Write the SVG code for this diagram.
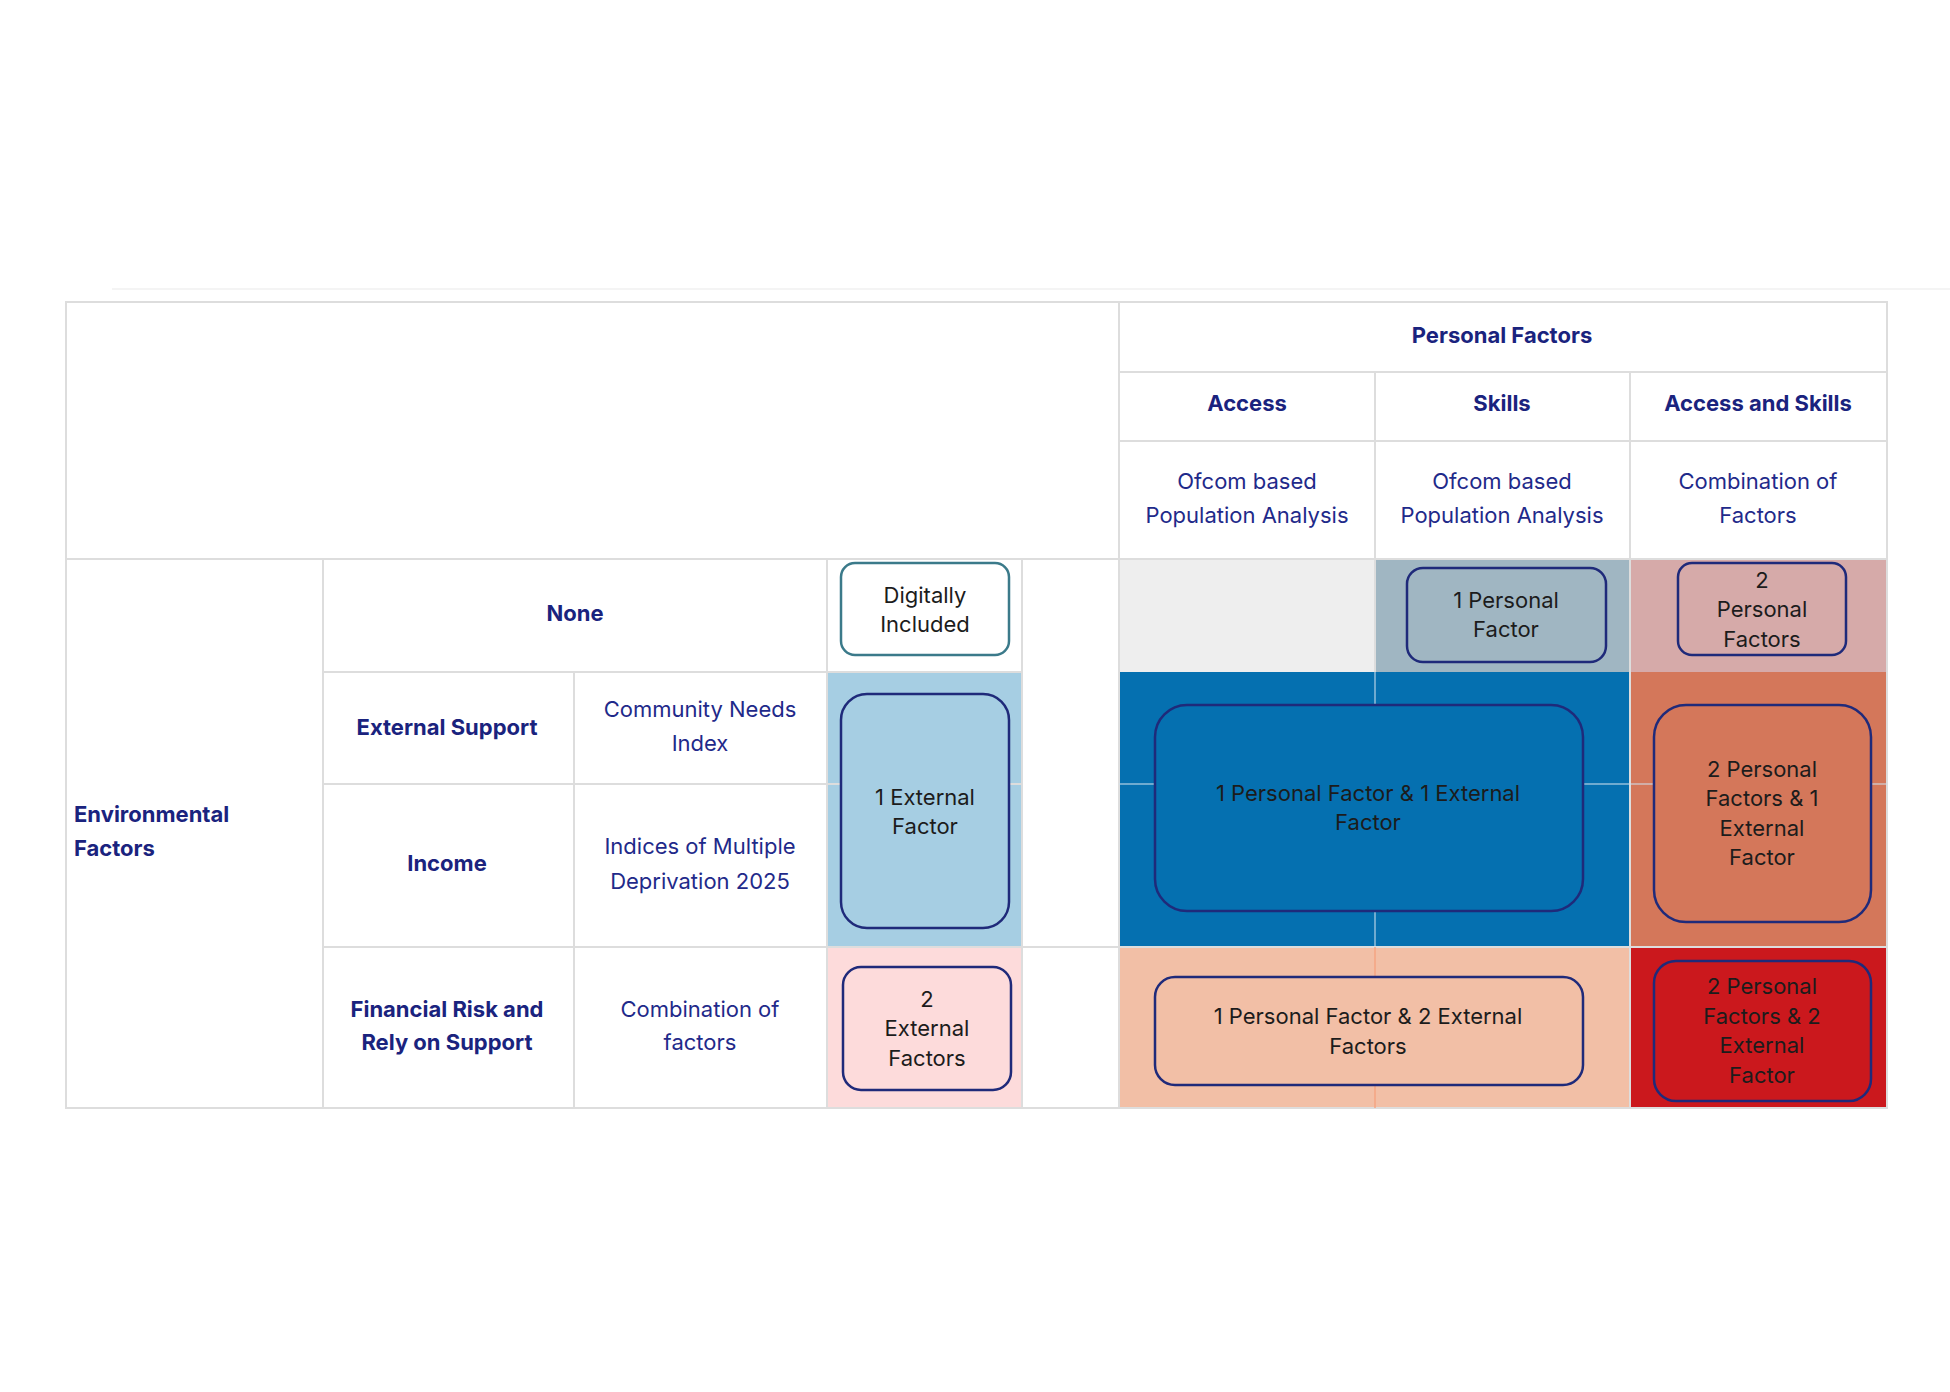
<svg xmlns="http://www.w3.org/2000/svg" width="1950" height="1392" viewBox="0 0 1950 1392">
<style>
text{font-family:Inter,"Liberation Sans",sans-serif;dominant-baseline:central;text-anchor:middle}
.h{font-size:22px;font-weight:700;fill:#1a237e}
.t{font-size:22px;fill:#1f2a8a}
.b{font-size:22px;fill:#1c1c1c}
.g{stroke:#dddddd;stroke-width:2;fill:none}
.box{stroke:#1f2a7a;stroke-width:2.5}
</style>
<rect width="1950" height="1392" fill="#fff"/>
<line x1="112" y1="289" x2="1950" y2="289" stroke="#f0f0f0" stroke-width="1.5"/>
<g id="cells">
<rect x="1119" y="559" width="256" height="113" fill="#eeeeee"/>
<rect x="1375" y="559" width="255" height="113" fill="#a0b6c2"/>
<rect x="1630" y="559" width="257" height="113" fill="#d6aaa9"/>
<rect x="1119" y="672" width="511" height="275" fill="#0570b0"/>
<rect x="1630" y="672" width="257" height="275" fill="#d4775a"/>
<rect x="1119" y="947" width="511" height="161" fill="#f2bfa6"/>
<rect x="1630" y="947" width="257" height="161" fill="#cb181d"/>
<rect x="827" y="672" width="195" height="275" fill="#a6cee3"/>
<rect x="827" y="947" width="195" height="161" fill="#fddbdb"/>
</g>
<g id="grid">
<rect class="g" x="66" y="302" width="1821" height="806"/>
<line class="g" x1="1119" y1="302" x2="1119" y2="1108"/>
<line class="g" x1="1119" y1="372" x2="1887" y2="372"/>
<line class="g" x1="1375" y1="372" x2="1375" y2="672"/>
<line class="g" x1="1630" y1="372" x2="1630" y2="1108"/>
<line class="g" x1="1119" y1="441" x2="1887" y2="441"/>
<line class="g" x1="66" y1="559" x2="1887" y2="559"/>
<line class="g" x1="323" y1="559" x2="323" y2="1108"/>
<line class="g" x1="574" y1="672" x2="574" y2="1108"/>
<line class="g" x1="827" y1="559" x2="827" y2="1108"/>
<line class="g" x1="1022" y1="559" x2="1022" y2="1108"/>
<line class="g" x1="323" y1="672" x2="1022" y2="672"/>
<line class="g" x1="323" y1="784" x2="1022" y2="784"/>
<line class="g" x1="323" y1="947" x2="1887" y2="947"/>
<line x1="1119" y1="784" x2="1887" y2="784" stroke="#cfe0ee" stroke-width="1.5" opacity="0.7"/>
<line x1="1375" y1="672" x2="1375" y2="947" stroke="#cfe0ee" stroke-width="1.5" opacity="0.7"/>
<line x1="1375" y1="947" x2="1375" y2="1108" stroke="#f4a582" stroke-width="1.5"/>
</g>
<g id="headers">
<text class="h" x="1502" y="335">Personal Factors</text>
<text class="h" x="1247" y="403">Access</text>
<text class="h" x="1502" y="403">Skills</text>
<text class="h" x="1758" y="403">Access and Skills</text>
<text class="t" x="1247" y="481">Ofcom based</text><text class="t" x="1247" y="515">Population Analysis</text>
<text class="t" x="1502" y="481">Ofcom based</text><text class="t" x="1502" y="515">Population Analysis</text>
<text class="t" x="1758" y="481">Combination of</text><text class="t" x="1758" y="515">Factors</text>
<text class="h" x="74" y="814" style="text-anchor:start">Environmental</text>
<text class="h" x="74" y="848" style="text-anchor:start">Factors</text>
<text class="h" x="575" y="613">None</text>
<text class="h" x="447" y="727">External Support</text>
<text class="t" x="700" y="709">Community Needs</text><text class="t" x="700" y="743">Index</text>
<text class="h" x="447" y="863">Income</text>
<text class="t" x="700" y="846">Indices of Multiple</text><text class="t" x="700" y="881">Deprivation 2025</text>
<text class="h" x="447" y="1009">Financial Risk and</text><text class="h" x="447" y="1042">Rely on Support</text>
<text class="t" x="700" y="1009">Combination of</text><text class="t" x="700" y="1042">factors</text>
</g>
<g id="n-digital"><rect x="841" y="563" width="168" height="92" rx="14" fill="#fff" stroke="#3b7a8a" stroke-width="2.5"/>
<text class="b" x="925" y="595">Digitally</text><text class="b" x="925" y="624">Included</text></g>
<g id="n-1ef"><rect class="box" x="841" y="694" width="168" height="234" rx="26" fill="#a6cee3"/>
<text class="b" x="925" y="797">1 External</text><text class="b" x="925" y="826">Factor</text></g>
<g id="n-2ef"><rect class="box" x="843" y="967" width="168" height="123" rx="18" fill="#fddbdb"/>
<text class="b" x="927" y="999">2</text><text class="b" x="927" y="1028">External</text><text class="b" x="927" y="1058">Factors</text></g>
<g id="n-1pf"><rect class="box" x="1407" y="568" width="199" height="94" rx="16" fill="#a0b6c2"/>
<text class="b" x="1506" y="600">1 Personal</text><text class="b" x="1506" y="629">Factor</text></g>
<g id="n-2pf"><rect class="box" x="1678" y="563" width="168" height="92" rx="14" fill="#d6aaa9"/>
<text class="b" x="1762" y="580">2</text><text class="b" x="1762" y="609">Personal</text><text class="b" x="1762" y="639">Factors</text></g>
<g id="n-1pf1ef"><rect class="box" x="1155" y="705" width="428" height="206" rx="32" fill="#0570b0"/>
<text class="b" x="1368" y="793">1 Personal Factor &amp; 1 External</text><text class="b" x="1368" y="822">Factor</text></g>
<g id="n-2pf1ef"><rect class="box" x="1654" y="705" width="217" height="217" rx="32" fill="#d4775a"/>
<text class="b" x="1762" y="769">2 Personal</text><text class="b" x="1762" y="798">Factors &amp; 1</text><text class="b" x="1762" y="828">External</text><text class="b" x="1762" y="857">Factor</text></g>
<g id="n-1pf2ef"><rect class="box" x="1155" y="977" width="428" height="108" rx="20" fill="#f2bfa6"/>
<text class="b" x="1368" y="1016">1 Personal Factor &amp; 2 External</text><text class="b" x="1368" y="1046">Factors</text></g>
<g id="n-2pf2ef"><rect class="box" x="1654" y="961" width="217" height="140" rx="22" fill="#cb181d"/>
<text class="b" x="1762" y="986">2 Personal</text><text class="b" x="1762" y="1016">Factors &amp; 2</text><text class="b" x="1762" y="1045">External</text><text class="b" x="1762" y="1075">Factor</text></g>
<g id="connectors"/>
</svg>
